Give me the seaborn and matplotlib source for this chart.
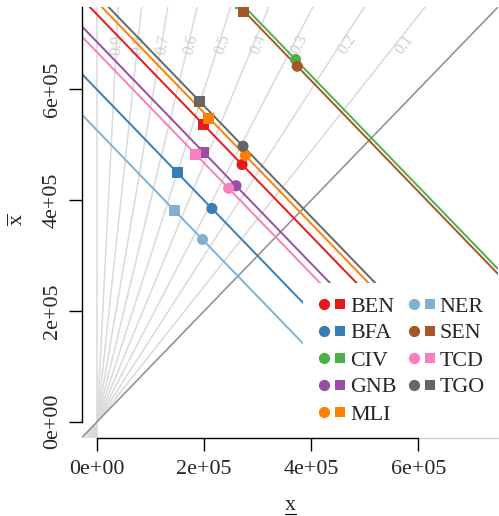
import numpy as np
import pandas as pd
import matplotlib
matplotlib.use("Agg")
import matplotlib.pyplot as plt
import seaborn as sns
from matplotlib.lines import Line2D
from matplotlib.legend_handler import HandlerTuple

sns.set_style("ticks")
plt.rcParams['font.family'] = ['Liberation Serif', 'DejaVu Serif']
plt.rcParams['mathtext.fontset'] = 'custom'
plt.rcParams['mathtext.rm'] = 'Liberation Serif'
plt.rcParams['mathtext.it'] = 'Liberation Serif:italic'

# ---------------- data ----------------
countries = ['BEN', 'BFA', 'CIV', 'GNB', 'MLI', 'NER', 'SEN', 'TCD', 'TGO']
colors = ['#E41A1C', '#377EB8', '#4DAF4A', '#984EA3', '#FF7F00',
          '#80B1D3', '#A65628', '#F781BF', '#666666']
circle_x = [270700, 214400, 370600, 259400, 276800, 196800, 373800, 245500, 272500]
circle_y = [464400, 385000, 654000, 426000, 480700, 329100, 641900, 421500, 497500]
square_x = [198700, 150000, 268000, 198700, 208100, 144300, 273700, 183100, 191200]
square_y = [536600, 449400, 756000, 485500, 547500, 381900, 740000, 481900, 577600]
ray_shares = [0.1, 0.2, 0.3, 0.4, 0.5, 0.6, 0.7, 0.8, 0.9]
tick_vals = [0, 200000, 400000, 600000]
tick_labels = ['0e+00', '2e+05', '4e+05', '6e+05']

rows = []
for i, c in enumerate(countries):
    rows.append(dict(country=c, kind='circle', x=circle_x[i], y=circle_y[i]))
    rows.append(dict(country=c, kind='square', x=square_x[i], y=square_y[i]))
df = pd.DataFrame(rows)
pal = dict(zip(countries, colors))

# ---------------- figure ----------------
W, H = 499, 516
fig = plt.figure(figsize=(W / 100, H / 100), dpi=100)
L, R, T, B = 81.7, 498.0, 7.0, 437.7
ax = fig.add_axes([L / W, 1 - B / H, (R - L) / W, (B - T) / H])
lim = (-28800, 748800)
ax.set_xlim(lim)
ax.set_ylim(lim)

ray_color = '#DADADA'
ax.axvline(0, color=ray_color, lw=1.1, zorder=1)
for t in ray_shares:
    ax.axline((0, 0), slope=(1 + t) / (1 - t), color=ray_color, lw=1.1, zorder=1)
ax.axline((0, 0), slope=1, color='#8C8C8C', lw=1.1, zorder=1.5)

# ray labels
Y_lab = 681000
for t in ray_shares:
    slope = (1 + t) / (1 - t)
    p0 = ax.transData.transform((0, 0))
    p1 = ax.transData.transform((1e5, 1e5 * slope))
    ang = np.degrees(np.arctan2(p1[1] - p0[1], p1[0] - p0[0]))
    ax.text(1.03 * Y_lab / slope, Y_lab, f'{t:.1f}', rotation=ang,
            rotation_mode='anchor', ha='center', va='center',
            fontsize=11.5, color='#CFCFCF', zorder=1.2)

# country lines (x_lower + x_upper = const)
for i, c in enumerate(countries):
    ax.axline((circle_x[i], circle_y[i]), slope=-1, color=colors[i], lw=1.4, zorder=2)

sns.scatterplot(data=df, x='x', y='y', hue='country', style='kind',
                markers={'circle': 'o', 'square': 's'}, palette=pal,
                hue_order=countries, s=64, linewidth=0, legend=False,
                ax=ax, zorder=3)
ax.set_xlabel('')
ax.set_ylabel('')

# legend
handles = []
for c in colors:
    h1 = Line2D([], [], marker='o', ls='', color=c, ms=8.1, mew=0)
    h2 = Line2D([], [], marker='s', ls='', color=c, ms=7.7, mew=0)
    handles.append((h1, h2))
leg = ax.legend(handles, countries, handler_map={tuple: HandlerTuple(ndivide=None, pad=0)},
                ncol=2, loc='lower right', bbox_to_anchor=(1, 0), borderaxespad=0,
                frameon=True, facecolor='white', edgecolor='none', framealpha=1,
                fancybox=False, fontsize=15.84, handlelength=1.43, handletextpad=0.1,
                columnspacing=0.43, labelspacing=0.3, borderpad=0.6)
leg.set_zorder(10)

# axes styling
for s in ['top', 'right']:
    ax.spines[s].set_visible(False)
ax.spines['left'].set_bounds(0, lim[1])
ax.spines['bottom'].set_bounds(0, 600000)
for s in ['left', 'bottom']:
    ax.spines[s].set_color('black')
    ax.spines[s].set_linewidth(1.0)
    ax.spines[s].set_zorder(12)
ax.plot([600000, lim[1]], [lim[0], lim[0]], color='#D0D0D0', lw=1.0,
        clip_on=False, zorder=11)

ax.set_xticks(tick_vals, tick_labels)
ax.set_yticks(tick_vals, tick_labels)
ax.tick_params(length=9.4, width=1.0, color='black', labelsize=15.84, direction='out')
ax.tick_params(axis='x', pad=7)
ax.tick_params(axis='y', pad=4.7)
for lbl in ax.get_yticklabels():
    lbl.set_rotation(90)
    lbl.set_va('center')
ax.grid(False)

# axis titles
fig.text(290 / W, 1 - 506 / H, 'x', ha='center', va='center', fontsize=15.84)
fig.add_artist(Line2D([284.5 / W, 295.5 / W], [1 - 513.5 / H] * 2,
                      transform=fig.transFigure, color='black', lw=0.8))
fig.text(18.3 / W, 1 - 220 / H, r'$\overline{\mathrm{x}}$', rotation=90,
         ha='center', va='center', fontsize=15.84)

fig.savefig('out.png', dpi=100)
